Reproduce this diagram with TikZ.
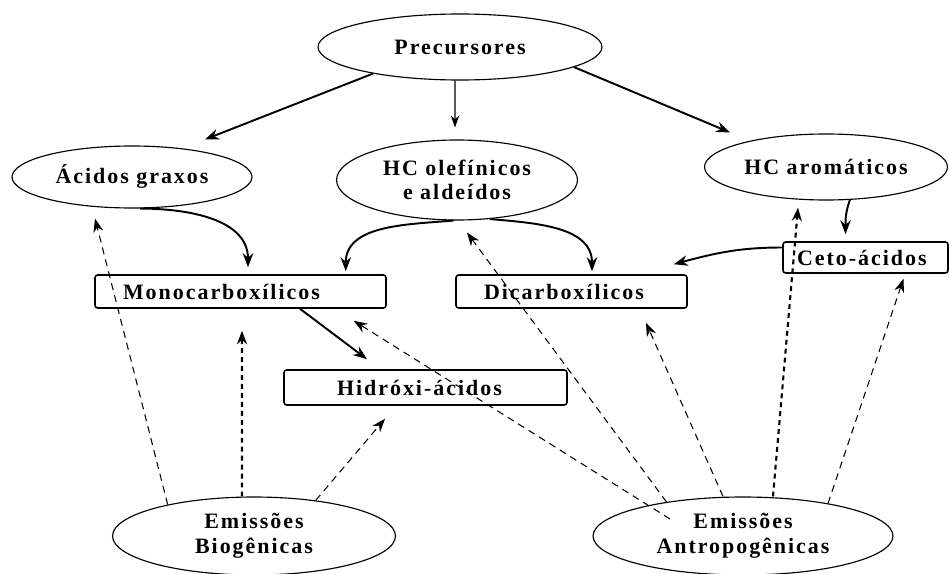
\documentclass[tikz,border=0pt]{standalone}
\usepackage{fontspec}
\newfontfamily\rotulo[LetterSpace=9]{Liberation Serif}
\usetikzlibrary{shapes.geometric}
\usetikzlibrary{arrows.meta}

\begin{document}
\begin{tikzpicture}[x=0.02cm, y=-0.02cm, font=\rotulo\bfseries\fontsize{12.5}{14}\selectfont]
    \tikzset{elipse/.style={ellipse, draw, line width=0.65pt, inner sep=0pt, align=center}}
    \tikzset{caixa/.style={rectangle, draw, line width=0.9pt, rounded corners=1.5pt, minimum height=0.66cm, inner ysep=0pt, align=left}}
    \tikzset{seta/.style={line width=1.1pt, ->, >={Stealth[length=2.8mm, width=2.1mm]}}}
    \tikzset{tracejada/.style={line width=0.6pt, ->, >={Stealth[length=2.7mm, width=2mm]}, dash pattern=on 4pt off 3pt}}
    \tikzset{grossa/.style={line width=1.2pt, dash pattern=on 2.8pt off 2.3pt}}
    \useasboundingbox (0, 0) rectangle (949, 574);
    % elipses
    \node[elipse, minimum width=5.68cm, minimum height=1.32cm] (prec) at (460, 47) {Precursores};
    \node[elipse, minimum width=4.8cm, minimum height=1.24cm] (acid) at (132, 177) {Ácidos graxos};
    \node[elipse, minimum width=4.82cm, minimum height=1.6cm] (olef) at (457, 180) {HC olefínicos\\e aldeídos};
    \node[elipse, minimum width=4.86cm, minimum height=1.32cm] (arom) at (826, 167) {HC aromáticos};
    \node[elipse, minimum width=5.66cm, minimum height=1.56cm] (bio) at (254, 536) {Emissões\\Biogênicas};
    \node[elipse, minimum width=6cm, minimum height=1.56cm] (antro) at (743, 536) {Emissões\\Antropogênicas};
    % caixas
    \node[caixa, text width=4.7cm, inner xsep=0.56cm] (mono) at (240.5, 291.5) {Monocarboxílicos};
    \node[caixa, text width=3.5cm, inner xsep=0.56cm] (dicarb) at (571.5, 291.5) {Dicarboxílicos};
    \node[caixa, text width=3.54cm, inner xsep=1.06cm, minimum height=0.7cm] (hidr) at (425.5, 387.5) {Hidróxi-ácidos};
    \node[caixa, text width=2.74cm, inner xsep=0.28cm, minimum height=0.62cm] (ceto) at (865.5, 257.5) {Ceto-ácidos};
    % setas cheias
    \draw[seta] (prec.197) -- ([xshift=1.46cm, yshift=0.12cm]acid.north);
    \draw[line width=0.6pt, ->, >={Stealth[length=2.4mm, width=1.7mm]}] ([xshift=-0.1cm]prec.south) -- ([xshift=-0.04cm, yshift=0.24cm]olef.north);
    \draw[seta] (prec.350) -- ([xshift=-1.92cm, yshift=0.02cm]arom.north);
    \draw[seta] ([xshift=0.16cm]acid.south) to[out=0, in=90] ([xshift=0.15cm, yshift=0.14cm]mono.north);
    \draw[seta] (olef.265) to[out=185, in=90] ([xshift=-0.82cm, yshift=0.06cm]mono.north east);
    \draw[seta] (olef.310) to[out=-5, in=90] ([xshift=0.41cm, yshift=0.06cm]dicarb.north);
    \draw[seta] (arom.306) to[out=250, in=90] ([xshift=-0.4cm, yshift=0.14cm]ceto.north);
    \draw[seta] ([yshift=0.2cm]ceto.west) to[out=180, in=15] ([xshift=-0.28cm, yshift=0.2cm]dicarb.north east);
    \draw[seta] ([xshift=1.19cm]mono.south) -- ([xshift=-1.17cm, yshift=0.2cm]hidr.north);
    % emissoes biogenicas
    \draw[tracejada] (bio.160) -- ([xshift=-0.74cm, yshift=-0.2cm]acid.south);
    \draw[tracejada, grossa] ([xshift=-0.24cm]bio.north) -- ([xshift=0.03cm, yshift=-0.44cm]mono.south);
    \draw[tracejada] (bio.30) -- ([xshift=-0.81cm, yshift=-0.26cm]hidr.south);
    % emissoes antropogenicas
    \draw[tracejada] (antro.156) -- ([xshift=0.2cm, yshift=-0.24cm]olef.south);
    \draw[tracejada] ([xshift=-1.46cm, yshift=0.34cm]antro.center) -- ([xshift=-0.66cm, yshift=-0.24cm]mono.south east);
    \draw[tracejada] ([xshift=-0.4cm]antro.north) -- ([xshift=1.49cm, yshift=-0.28cm]dicarb.south);
    \draw[tracejada, grossa] ([xshift=0.6cm]antro.north) -- ([xshift=-0.56cm, yshift=-0.14cm]arom.south);
    \draw[tracejada] (antro.21) -- ([xshift=0.76cm, yshift=-0.1cm]ceto.south);
\end{tikzpicture}
\end{document}
